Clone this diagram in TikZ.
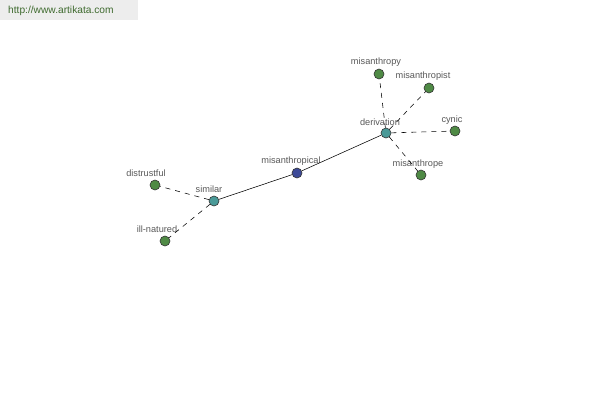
\documentclass[tikz,border=0pt]{standalone}
\usepackage{fontspec}
\setmainfont{Liberation Sans}
\begin{document}
\begin{tikzpicture}[x=1pt,y=-1pt,
  dot/.style={circle,draw=black!80,line width=0.6pt,minimum size=10pt,inner sep=0pt},
  lbl/.style={font=\fontsize{9.2}{10}\selectfont,text=black!65,inner sep=0pt},
  link/.style={line width=0.55pt,black},
  dlink/.style={line width=0.55pt,black,dash pattern=on 5pt off 5pt}]
\useasboundingbox (0,0) rectangle (600,400);
\fill[white] (0,0) rectangle (600,400);
\node[fill=black!7,minimum width=138pt,minimum height=20pt,anchor=north west,inner sep=0pt] (hdr) at (0,0) {};
\definecolor{urlc}{HTML}{3E6A2E}
\node[font=\fontsize{10.2}{11}\selectfont,text=urlc,anchor=west,inner sep=0pt] (url) at (8,11) {http://www.artikata.com};
\definecolor{leafc}{HTML}{4F8A45}
\definecolor{hubc}{HTML}{4A9A98}
\definecolor{corec}{HTML}{3D4A98}
\node[dot,fill=corec] (mp) at (297,173) {};
\node[dot,fill=hubc] (der) at (386,133) {};
\node[dot,fill=hubc] (sim) at (214,201) {};
\node[dot,fill=leafc] (dis) at (155,185) {};
\node[dot,fill=leafc] (ill) at (165,241) {};
\node[dot,fill=leafc] (mthy) at (379,74) {};
\node[dot,fill=leafc] (mist) at (429,88) {};
\node[dot,fill=leafc] (cyn) at (455,131) {};
\node[dot,fill=leafc] (mope) at (421,175) {};
\node[lbl] (lmp) at (291,161) {misanthropical};
\node[lbl] (lder) at (380,122) {derivation};
\node[lbl] (lsim) at (209,189) {similar};
\node[lbl] (ldis) at (146,173) {distrustful};
\node[lbl] (lill) at (157,229) {ill-natured};
\node[lbl] (lmthy) at (376,62) {misanthropy};
\node[lbl] (lmist) at (423,76) {misanthropist};
\node[lbl] (lcyn) at (452,120) {cynic};
\node[lbl] (lmope) at (418,164) {misanthrope};
\draw[link] (sim) -- (mp);
\draw[link] (mp) -- (der);
\draw[dlink] (sim) -- (dis);
\draw[dlink] (sim) -- (ill);
\draw[dlink] (der) -- (mthy);
\draw[dlink] (der) -- (mist);
\draw[dlink] (der) -- (cyn);
\draw[dlink] (der) -- (mope);
\end{tikzpicture}
\end{document}
